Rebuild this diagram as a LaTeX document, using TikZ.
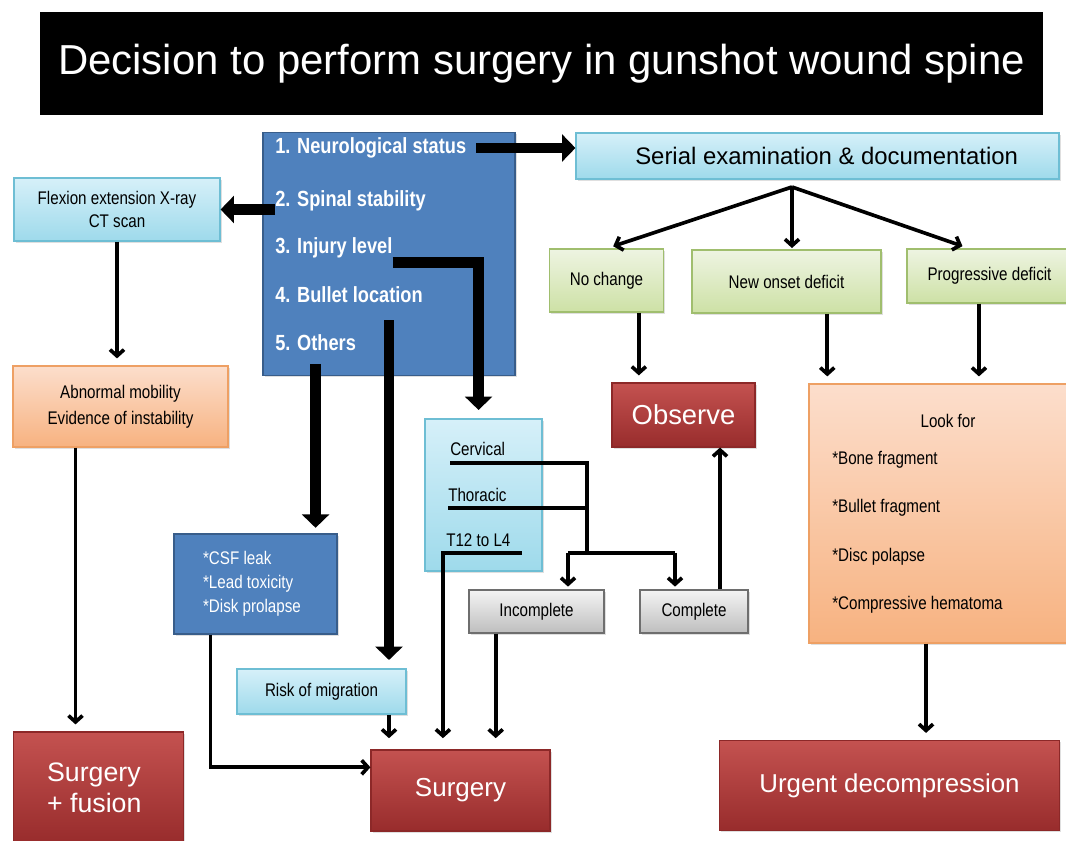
\documentclass[tikz,border=0pt]{standalone}
\usepackage{fontspec}
\setmainfont{Liberation Sans}
\newfontfamily\narrowfont[FakeStretch=0.83]{Liberation Sans}
\usetikzlibrary{positioning}
\usetikzlibrary{arrows.meta}
\usetikzlibrary{shadows}

\definecolor{itemblue}{RGB}{79,129,189}
\definecolor{itemedge}{RGB}{56,93,138}
\definecolor{aquatop}{RGB}{214,240,249}
\definecolor{aquabot}{RGB}{158,218,235}
\definecolor{aquaedge}{RGB}{110,190,212}
\definecolor{greentop}{RGB}{238,244,226}
\definecolor{greenbot}{RGB}{205,225,165}
\definecolor{greenedge}{RGB}{160,190,110}
\definecolor{orangetop}{RGB}{252,222,204}
\definecolor{orangebot}{RGB}{247,178,128}
\definecolor{orangeedge}{RGB}{238,160,100}
\definecolor{greytop}{RGB}{244,244,244}
\definecolor{greybot}{RGB}{190,190,190}
\definecolor{greyedge}{RGB}{110,110,110}
\definecolor{redtop}{RGB}{196,82,80}
\definecolor{redbot}{RGB}{152,44,44}
\definecolor{rededge}{RGB}{140,40,40}

\tikzset{x=0.025cm, y=-0.025cm,
boxsize/.style 2 args={ % Sets a box size in pixels of the slide
minimum width=#1*0.025cm,
minimum height=#2*0.025cm},
every box/.style={
rectangle,
inner sep=0pt,
drop shadow={shadow xshift=1.2pt, shadow yshift=-1.2pt, opacity=0.25}},
smalltext/.style={font=\narrowfont\fontsize{13}{17}\selectfont},
bigtext/.style={font=\fontsize{18.8}{22}\selectfont, text=white},
itembox/.style={every box, fill=itemblue, draw=itemedge, line width=0.8pt},
aquabox/.style={every box, top color=aquatop, bottom color=aquabot, draw=aquaedge, line width=0.8pt},
greenbox/.style={every box, top color=greentop, bottom color=greenbot, draw=greenedge, line width=0.8pt},
orangebox/.style={every box, top color=orangetop, bottom color=orangebot, draw=orangeedge, line width=0.8pt},
greybox/.style={every box, top color=greytop, bottom color=greybot, draw=greyedge, line width=0.8pt},
redbox/.style={every box, top color=redtop, bottom color=redbot, draw=rededge, line width=0.8pt, bigtext},
item/.style={ % One line of the list in the blue box
anchor=west,
inner sep=0pt,
text=white,
font=\narrowfont\bfseries\fontsize{15.6}{18}\selectfont},
listtext/.style={smalltext, anchor=west, inner sep=0pt},
fat/.style={ % Thick arrows out of the list
line width=7.5pt,
-{Triangle[width=19pt,length=9.5pt]}},
thinline/.style={line width=2.6pt},
arrow/.style={ % Thin arrows with open heads
thinline,
-{Straight Barb[width=10pt,length=4.5pt]},
shorten >=5pt}}

\begin{document}
\begin{tikzpicture}
\useasboundingbox (0,0) rectangle (1066,841);
\clip (0,0) rectangle (1066,841);
\fill[white] (0,0) rectangle (1066,841);

% title
\node[fill=black, boxsize={1003}{103}, text=white, font=\fontsize{29.8}{34}\selectfont] (title) at (541.5,63.5) {Decision to perform surgery in gunshot wound spine};

% blue list
\node[itembox, boxsize={252}{243}] (main) at (389,254) {};
\node[item] (i1) at (275,148) {1. Neurological status};
\node[item] (i2) at (275,201) {2. Spinal stability};
\node[item] (i3) at (275,248) {3. Injury level};
\node[item] (i4) at (275,295) {4. Bullet location};
\node[item] (i5) at (275,343) {5. Others};
\coordinate (bl) at (389,320);

% left column
\node[aquabox, boxsize={206}{63}, smalltext, align=center] (flex) at (117,209.5) {Flexion extension X-ray\\CT scan};
\node[orangebox, boxsize={215}{81}, smalltext, align=center, font=\narrowfont\fontsize{13}{18.5}\selectfont] (abn) at (120.5,406.5) {Abnormal mobility\\Evidence of instability};
\node[redbox, boxsize={170}{111}, align=left, font=\fontsize{19}{22}\selectfont] (fusion) at (98.5,787.5) {Surgery\hspace*{6pt}\\+ fusion\hspace*{6pt}};

% serial examination
\node[aquabox, boxsize={483}{46}, font=\fontsize{17}{20}\selectfont] (serial) at (817.5,156) {\hspace{13pt}Serial examination \& documentation};
\coordinate (fork) at (792,187);
\node[greenbox, boxsize={114}{63}, smalltext] (nochg) at (606.5,280.5) {No change};
\node[greenbox, boxsize={189}{63}, smalltext] (newon) at (786.5,281.5) {New onset deficit};
\node[greenbox, boxsize={165}{54}, smalltext] (prog) at (989.5,276) {Progressive deficit};
\node[redbox, boxsize={143}{64}, font=\fontsize{19.5}{22}\selectfont] (obs) at (683.5,415) {Observe};
\node[orangebox, boxsize={265}{259}] (look) at (941.5,513.5) {};
\node[smalltext] (lookhd) at (948,421) {Look for};
\node[listtext] (bone) at (832,460) {*Bone fragment};
\node[listtext] (bullet) at (832,508) {*Bullet fragment};
\node[listtext] (disc) at (832,557) {*Disc polapse};
\node[listtext] (hema) at (832,605) {*Compressive hematoma};
\node[redbox, boxsize={340}{90}, font=\fontsize{18.4}{22}\selectfont] (urgent) at (889.5,785.5) {Urgent decompression};

% injury level
\node[aquabox, boxsize={117}{152}] (level) at (483.5,495) {};
\node[listtext] (cerv) at (450,449) {Cervical};
\node[listtext] (thor) at (448,495) {Thoracic};
\node[listtext] (tlow) at (446,540) {T12 to L4};
\coordinate (split) at (587,553);
\coordinate (lft) at (568,553);
\coordinate (rgt) at (675,553);
\node[greybox, boxsize={135}{43}, smalltext] (incomp) at (536.5,611.5) {Incomplete};
\node[greybox, boxsize={108}{43}, smalltext] (comp) at (694,611.5) {Complete};

% others and bullet
\node[itembox, boxsize={163}{100}, smalltext, text=white, align=left] (csf) at (255.5,584) {*CSF leak\\*Lead toxicity\\*Disk prolapse\hspace*{5pt}};
\node[aquabox, boxsize={169}{45}, smalltext] (risk) at (321.5,691.5) {Risk of migration};
\node[redbox, boxsize={179}{81}, font=\fontsize{18.5}{22}\selectfont] (surg) at (460.5,790.5) {Surgery};

% thick arrows
\draw[fat] ([xshift=7pt]i1.east) -- (i1.east -| serial.west);
\draw[fat] (i2.west |- flex.east) -- (flex.east);
\draw[fat, shorten >=6pt] ([yshift=-3pt]i3.south east) -| ([xshift=-3.5pt]level.north);
\draw[fat, shorten >=4pt] ([yshift=-9pt]i5.south) -- (i5.south |- csf.north);
\draw[fat, shorten >=6pt] (bl) -- (bl |- risk.north);

% thin arrows
\draw[arrow] (flex.south) -- (flex.south |- abn.north);
\draw[arrow] ([xshift=-32pt]abn.south) -- ([xshift=-32pt]abn.south |- fusion.north);
\draw[arrow] (fork) -- (nochg.north);
\draw[arrow, shorten >=1pt] (fork) -- (fork |- newon.north);
\draw[arrow] (fork) -- ([xshift=-14.5pt]prog.north);
\draw[arrow] ([xshift=23pt]nochg.south) -- ([xshift=23pt]nochg.south |- obs.north);
\draw[arrow] ([xshift=29pt]newon.south) -- ([xshift=29pt]newon.south |- look.north);
\draw[arrow] ([xshift=-7.5pt]prog.south) -- ([xshift=-7.5pt]prog.south |- look.north);
\draw[arrow] ([xshift=-11pt]look.south) -- ([xshift=-11pt]look.south |- urgent.north);
\draw[thinline] ([yshift=-5pt]cerv.south west) -| (split);
\draw[thinline] ([yshift=-4.5pt]thor.south west) -- ([yshift=-4.5pt]thor.south west -| split);
\draw[thinline] (lft) -- (rgt);
\draw[arrow, shorten >=2pt] (lft) -- (lft |- incomp.north);
\draw[arrow, shorten >=2pt] (rgt) -- (rgt |- comp.north);
\draw[arrow, shorten >=8pt] ([yshift=-4.5pt,xshift=8pt]tlow.south east) -| ([xshift=-12.5pt]surg.north);
\draw[arrow, shorten >=8pt] ([xshift=-29pt]incomp.south) -- ([xshift=-29pt]incomp.south |- surg.north);
\draw[arrow, shorten >=0pt] ([xshift=18.5pt]comp.north) -- ([xshift=18.5pt]comp.north |- obs.south);
\draw[arrow, shorten >=8pt] (bl |- risk.south) -- (bl |- surg.north);
\draw[arrow, shorten >=0pt] ([xshift=-32pt]csf.south) |- ([yshift=16.5pt]surg.west);
\end{tikzpicture}
\end{document}
